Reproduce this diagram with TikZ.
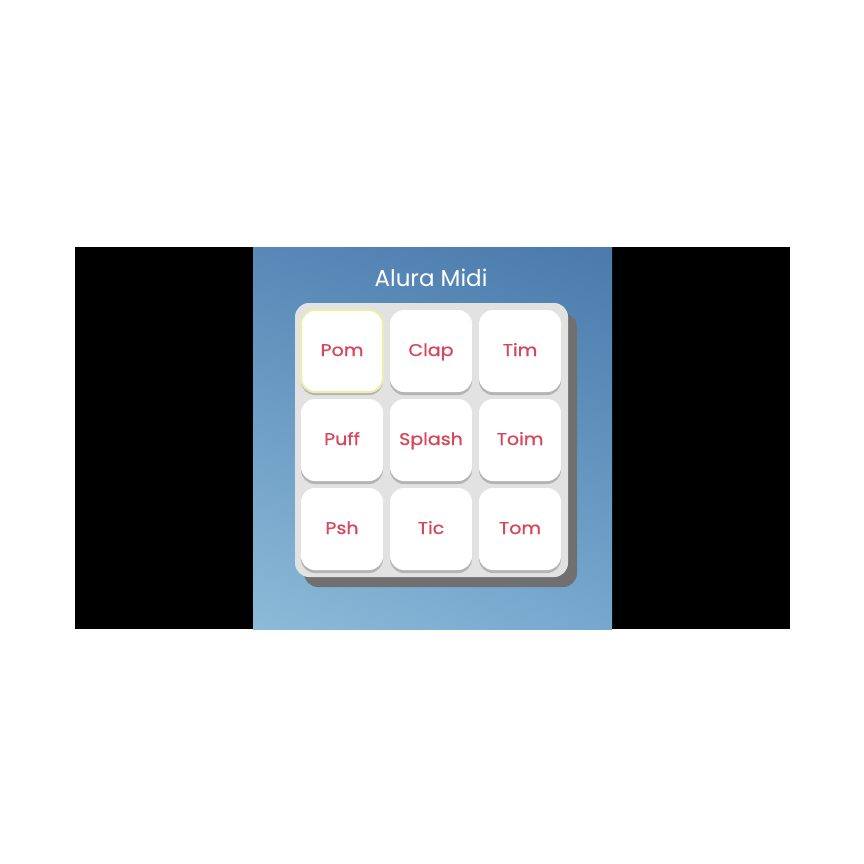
\documentclass[tikz,border=0pt]{standalone}
\usepackage{fontspec}
\setmainfont{Poppins}
\newfontfamily\padfont{Poppins}[FakeBold=0.9,FakeStretch=1.12]
\usetikzlibrary{shadows,shadings}
\definecolor{padred}{HTML}{D6475C}
\definecolor{padgray}{HTML}{E2E2E2}
\definecolor{padshade}{HTML}{707070}
\definecolor{keyshade}{HTML}{B4B4B4}
\definecolor{hilite}{HTML}{ECEEAA}
\definecolor{blueul}{HTML}{5888B7}
\definecolor{blueur}{HTML}{4A7AAB}
\definecolor{bluell}{HTML}{8CBAD8}
\definecolor{bluelr}{HTML}{76A8CE}
\begin{document}
\begin{tikzpicture}
[x=1pt,y=-1pt,
key/.style={fill=white,rounded corners=14pt,minimum width=82pt,
minimum height=82pt,inner sep=0pt,text=padred,
font=\padfont\fontsize{17}{20}\selectfont,text height=14pt,text depth=4pt,
drop shadow={shadow xshift=0pt,shadow yshift=-3pt,fill=keyshade,opacity=1}},
lit/.style={draw=hilite,line width=2pt}]
\fill[white] (0,0) rectangle (864,864);
\useasboundingbox (0,0) rectangle (864,864);
\fill[black] (75,247) rectangle (790,629);
\shade[upper left=blueul,upper right=blueur,lower left=bluell,lower right=bluelr]
(253,247) rectangle (612,629);
\node[text=white,font=\fontsize{23}{27}\selectfont] (title) at (431,278) {Alura Midi};
\fill[padgray,rounded corners=14pt,
drop shadow={shadow xshift=9pt,shadow yshift=-10pt,fill=padshade,opacity=1}]
(295,303) rectangle (568,577);
\foreach \name [count=\n from 0] in {Pom,Clap,Tim,Puff,Splash,Toim,Psh,Tic,Tom}{
\pgfmathtruncatemacro\col{mod(\n,3)}
\pgfmathtruncatemacro\row{floor(\n/3)}
\ifnum\n=0
\node[key,lit] (\name) at ({342+\col*89},{351+\row*89}) {\name};
\else\node[key] (\name) at ({342+\col*89},{351+\row*89}) {\name};\fi
}
\end{tikzpicture}
\end{document}
